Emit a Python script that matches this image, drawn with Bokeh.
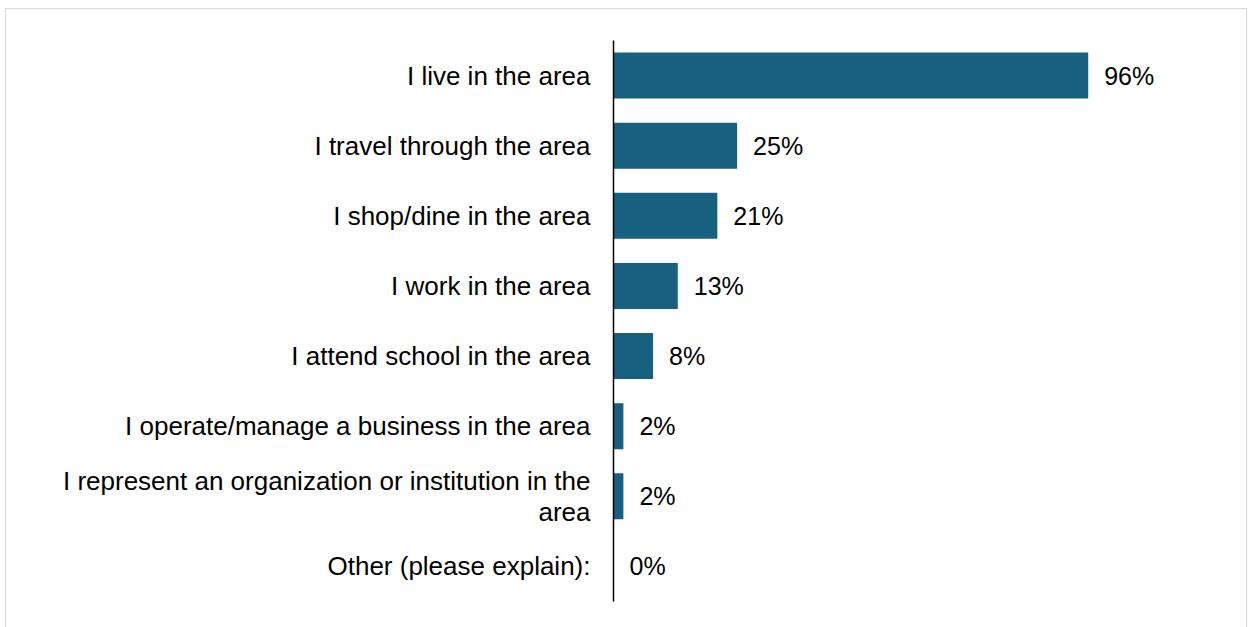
from bokeh.plotting import figure
from bokeh.models import ColumnDataSource, Range1d, FactorRange
from bokeh.embed import file_html
from bokeh.resources import INLINE
from bokeh.core.properties import value

categories = [
    "I live in the area",
    "I travel through the area",
    "I shop/dine in the area",
    "I work in the area",
    "I attend school in the area",
    "I operate/manage a business in the area",
    "I represent an organization or institution in the\narea",
    "Other (please explain):",
]
values = [96, 25, 21, 13, 8, 2, 2, 0]
value_labels = ["96%", "25%", "21%", "13%", "8%", "2%", "2%", "0%"]

src = ColumnDataSource(dict(cat=categories, val=values, lab=value_labels))

FONT = "Liberation Sans"

p = figure(
    width=1240, height=618,
    y_range=FactorRange(*list(reversed(categories)), range_padding=0),
    x_range=Range1d(0, 127),
    output_backend="svg", toolbar_location=None,
    min_border_left=607, min_border_top=31, min_border_bottom=26, min_border_right=5,
)
p.margin = (9, 0, 0, 6)
p.styles = {"outline": "1px solid #d9d9d9", "outline-offset": "0px"}
p.outline_line_color = None
p.background_fill_color = "white"
p.border_fill_color = "white"
p.grid.visible = False
p.xaxis.visible = False

p.hbar(y="cat", right="val", left=0, height=0.655, source=src,
       fill_color="#18607f", line_color=None)

p.text(x="val", y="cat", text="lab", source=src, x_offset=16,
       text_baseline="middle", text_align="left", text_color="#000000",
       text_font=value(FONT), text_font_size="25px")

ax = p.yaxis[0]
ax.axis_line_color = "#000000"
ax.axis_line_width = 1.5
ax.major_tick_line_color = None
ax.minor_tick_line_color = None
ax.major_tick_out = 0
ax.major_tick_in = 0
ax.major_label_standoff = 23
ax.major_label_text_font = FONT
ax.major_label_text_font_size = "26px"
ax.major_label_text_color = "#000000"
ax.major_label_text_line_height = 1.05

open("out.html", "w").write(file_html(p, INLINE))
